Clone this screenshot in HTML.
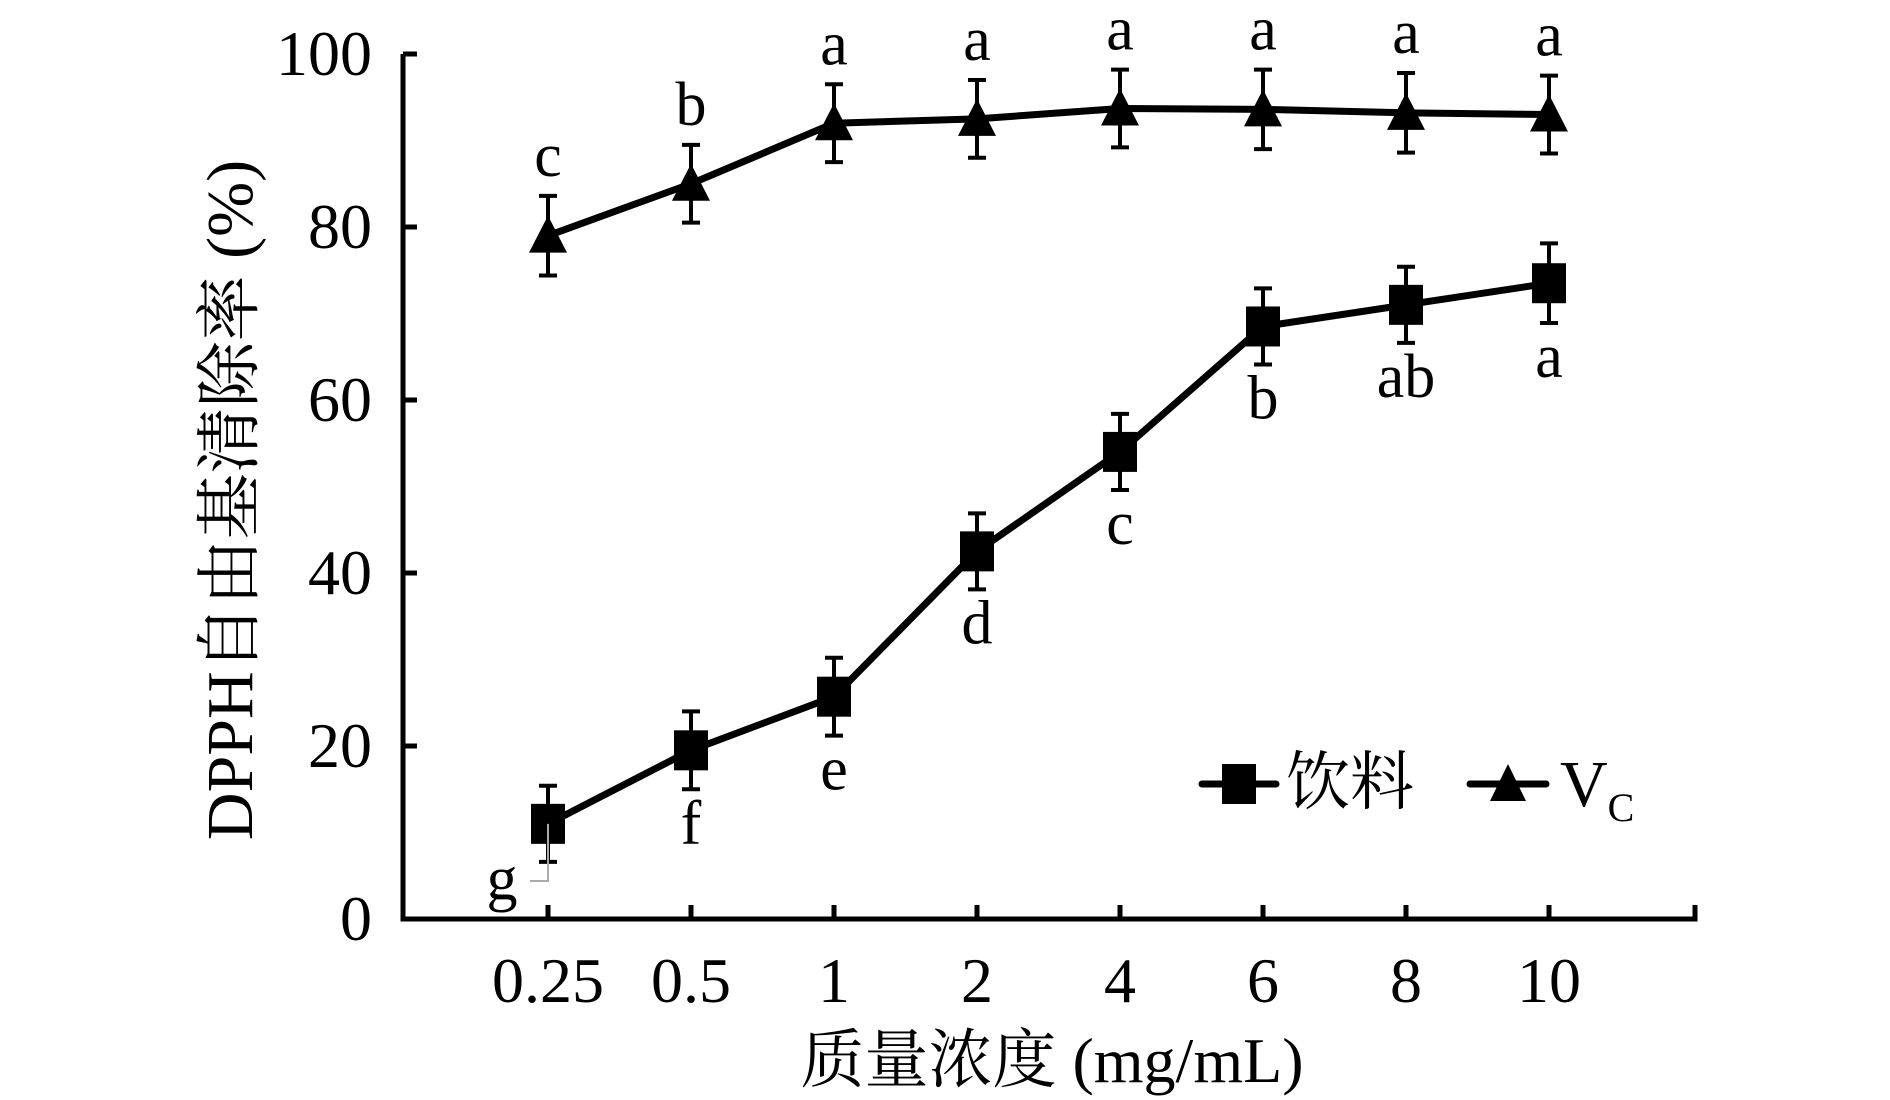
<!DOCTYPE html>
<html><head><meta charset="utf-8"><style>
body{margin:0;background:#fff}
svg{display:block}
text{font-family:"Liberation Serif","Noto Serif CJK SC",serif;fill:#000}
</style></head><body>
<svg id="chart" width="1890" height="1100" viewBox="0 0 1890 1100" xmlns="http://www.w3.org/2000/svg">
<g id="axes"></g>
<g id="series"></g>
<g id="legend">
  <line x1="1202" y1="784" x2="1276" y2="784" stroke="#000" stroke-width="7" stroke-linecap="round"/>
  <rect x="1222" y="764" width="34" height="40" fill="#000"/>
  <text x="1286" y="804" font-size="64">饮料</text>
  <line x1="1470" y1="784" x2="1546" y2="784" stroke="#000" stroke-width="7" stroke-linecap="round"/>
  <polygon points="1508,764 1490,801 1526,801" fill="#000"/>
  <text x="1560" y="806" font-size="66">V<tspan font-size="40" dy="15">C</tspan></text>
</g>
<text x="1052" y="1082" font-size="64" text-anchor="middle">质量浓度 (mg/mL)</text>
<text transform="translate(252,500) rotate(-90)" font-size="66" text-anchor="middle">DPPH自由基清除率 (%)</text>
</svg>
<script>
const categories = ["0.25","0.5","1","2","4","6","8","10"];
const drinkValues = [11, 19.5, 25.7, 42.5, 54, 68.5, 71, 73.5];
const drinkErrors = [4.4, 4.5, 4.5, 4.4, 4.4, 4.4, 4.4, 4.6];
const drinkLetters = ["g","f","e","d","c","b","ab","a"];
const vcValues = [79, 85, 92, 92.5, 93.7, 93.6, 93.2, 93];
const vcErrors = [4.6, 4.5, 4.5, 4.5, 4.5, 4.6, 4.6, 4.5];
const vcLetters = ["c","b","a","a","a","a","a","a"];
const yTicks = [0,20,40,60,80,100];

const NS="http://www.w3.org/2000/svg";
const x0=403, yBase=919, yTop=54, xFirst=548, xStep=143, xEnd=1695;
function xs(i){return xFirst+i*xStep;}
function ys(v){return yBase-(v/100)*(yBase-yTop);}
function mk(tag,attrs,parent,text){const e=document.createElementNS(NS,tag);for(const k in attrs)e.setAttribute(k,attrs[k]);if(text!==undefined)e.textContent=text;parent.appendChild(e);return e;}

const axes=document.getElementById('axes');
let e=mk('path',{d:`M${x0},${yTop} V${yBase} H${xEnd} V${yBase-14}`,fill:'none',stroke:'#000','stroke-width':5},axes);


yTicks.forEach(t=>{
  const l=mk('line',{x1:x0,x2:x0+14,y1:ys(t),y2:ys(t),stroke:'#000','stroke-width':5},axes);
  
  
  const tx=mk('text',{x:372,y:ys(t)+21,'font-size':64,'text-anchor':'end'},axes,String(t));
  
  
});
categories.forEach((c,i)=>{
  const l=mk('line',{x1:xs(i),x2:xs(i),y1:yBase,y2:yBase-14,stroke:'#000','stroke-width':5},axes);
  
  
  const tx=mk('text',{x:xs(i),y:1002,'font-size':64,'text-anchor':'middle'},axes,c);
  
  
});

const ser=document.getElementById('series');
function drawSeries(vals,errs,letters,name,isVc){
  const g=mk('g',{},ser);
  
  
  const pts=vals.map((v,i)=>xs(i)+','+ys(v)).join(' ');
  const pl=mk('polyline',{points:pts,fill:'none',stroke:'#000','stroke-width':7,'stroke-linejoin':'round'},g);
  
  
  vals.forEach((v,i)=>{
    const x=xs(i),y=ys(v),yt=ys(v+errs[i]),yb=ys(v-errs[i]);
    const eb=mk('path',{d:`M${x},${yt} V${yb} M${x-9},${yt} H${x+9} M${x-9},${yb} H${x+9}`,stroke:'#000','stroke-width':4,fill:'none'},g);
    
    
    let m;
    if(isVc){m=mk('polygon',{points:`${x},${y-20} ${x-19},${y+17} ${x+19},${y+17}`,fill:'#000'},g);}
    else{m=mk('rect',{x:x-17,y:y-20,width:34,height:40,fill:'#000'},g);}
    
    
    let lx=x, ly=isVc? yt-20 : yb+54;
    if(!isVc && i===0){lx=x-46; ly=yBase-20;
      const ld=mk('path',{d:`M${x},${y} V${ly-18} H${x-18}`,stroke:'#aaa','stroke-width':2,fill:'none'},g);
      
      
    }
    const t=mk('text',{x:lx,y:ly,'font-size':62,'text-anchor':'middle'},g,letters[i]);
    
    
  });
}
drawSeries(drinkValues,drinkErrors,drinkLetters,'drink',false);
drawSeries(vcValues,vcErrors,vcLetters,'vc',true);
</script>
</body></html>
